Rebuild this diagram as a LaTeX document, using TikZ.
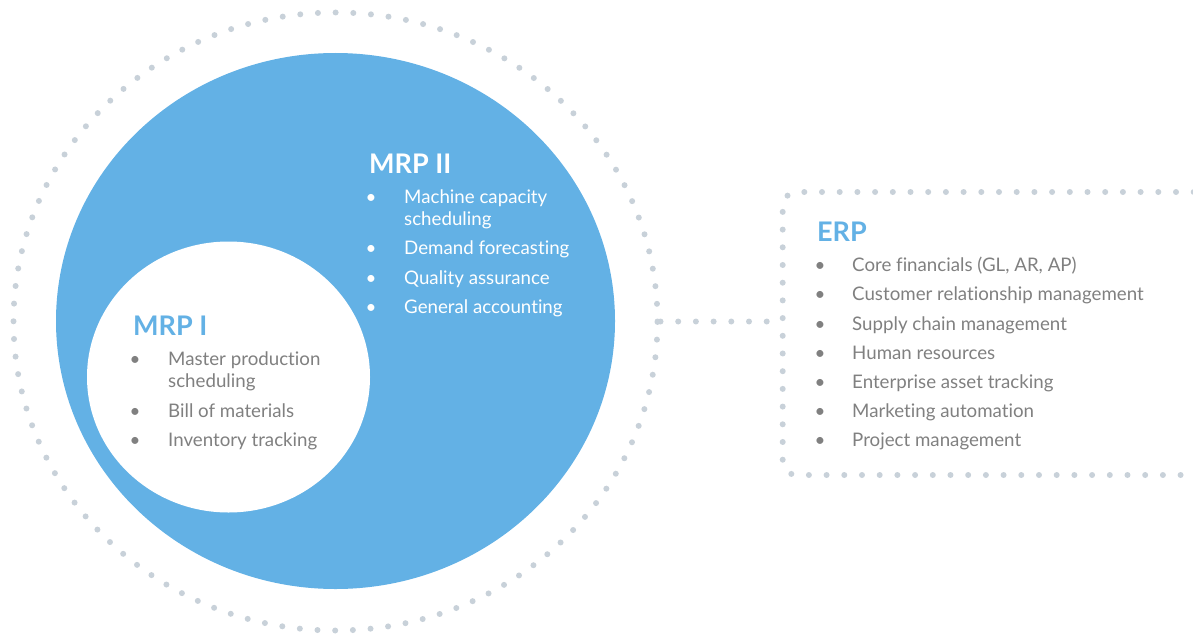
\documentclass[tikz,border=0pt]{standalone}
\usepackage{fontspec}
\setmainfont{Lato}[Ligatures=CommonOff]
\usetikzlibrary{shapes.geometric}
\definecolor{mblue}{HTML}{63B1E5}
\definecolor{dotc}{HTML}{C8D1D9}
\definecolor{txt}{HTML}{808080}
\tikzset{
  dotline/.style={draw=dotc, line width=6pt, line cap=round, dash pattern=on 0pt off 17.7pt},
  body/.style={inner sep=0pt, anchor=base west, font=\fontsize{18.7}{22}\selectfont, align=left},
  bul/.style={inner sep=0pt, anchor=base, font=\fontsize{18.7}{22}\selectfont},
  ttl/.style={inner sep=0pt, anchor=base west, font=\fontsize{27}{30}\selectfont\bfseries},
}
\begin{document}
\begin{tikzpicture}[x=1pt,y=-1pt]
\useasboundingbox (0,0) rectangle (1193,634);
% outer dotted ring
\node[ellipse, dotline, minimum width=644pt, minimum height=618pt, inner sep=0pt] (ring) at (335.5,321.5) {};
% blue circle
\node[ellipse, fill=mblue, minimum width=559pt, minimum height=536pt, inner sep=0pt] (mrp2) at (335.5,321) {};
% white circle
\node[ellipse, fill=white, minimum width=283pt, minimum height=271pt, inner sep=0pt] (mrp1) at (228.5,377) {};
% ERP box
\node[rectangle, rounded corners=14pt, dotline, minimum width=425pt, minimum height=283pt, inner sep=0pt] (erp) at (995.2,333.5) {};
% connector
\draw[dotline] (ring.east) -- (ring.east -| erp.west);

% MRP I text
\node[ttl, text=mblue] (t1) at (133,335) {MRP I};
\node[bul, text=txt] (b11) at (135,365) {•};
\node[body, text=txt] (i11) at (168,365) {Master production};
\node[body, text=txt] (i11b) at (168,387) {scheduling};
\node[bul, text=txt] (b12) at (135,417) {•};
\node[body, text=txt] (i12) at (168,417) {Bill of materials};
\node[bul, text=txt] (b13) at (135,446) {•};
\node[body, text=txt] (i13) at (168,446) {Inventory tracking};

% MRP II text
\node[ttl, text=white] (t2) at (369,173) {MRP II};
\node[bul, text=white] (b21) at (371,203) {•};
\node[body, text=white] (i21) at (404,203) {Machine capacity};
\node[body, text=white] (i21b) at (404,225) {scheduling};
\node[bul, text=white] (b22) at (371,254.5) {•};
\node[body, text=white] (i22) at (404,254.5) {Demand forecasting};
\node[bul, text=white] (b23) at (371,284) {•};
\node[body, text=white] (i23) at (404,284) {Quality assurance};
\node[bul, text=white] (b24) at (371,313) {•};
\node[body, text=white] (i24) at (404,313) {General accounting};

% ERP text
\node[ttl, text=mblue] (t3) at (817,241) {ERP};
\node[bul, text=txt] (b31) at (820,271.7) {•};
\node[body, text=txt] (i31) at (852,271.7) {Core financials (GL, AR, AP)};
\node[bul, text=txt] (b32) at (820,300.7) {•};
\node[body, text=txt] (i32) at (852,300.7) {Customer relationship management};
\node[bul, text=txt] (b33) at (820,330) {•};
\node[body, text=txt] (i33) at (852,330) {Supply chain management};
\node[bul, text=txt] (b34) at (820,359) {•};
\node[body, text=txt] (i34) at (852,359) {Human resources};
\node[bul, text=txt] (b35) at (820,388) {•};
\node[body, text=txt] (i35) at (852,388) {Enterprise asset tracking};
\node[bul, text=txt] (b36) at (820,417) {•};
\node[body, text=txt] (i36) at (852,417) {Marketing automation};
\node[bul, text=txt] (b37) at (820,446) {•};
\node[body, text=txt] (i37) at (852,446) {Project management};
\end{tikzpicture}
\end{document}
